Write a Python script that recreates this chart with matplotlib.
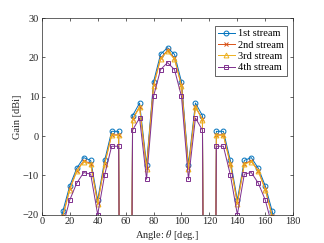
import numpy as np
import matplotlib
matplotlib.use("Agg")
from matplotlib import pyplot as plt

plt.rcParams['font.family'] = ['Liberation Serif', 'DejaVu Serif']
plt.rcParams['mathtext.fontset'] = 'stix'

angles = np.arange(0, 181, 5)

#gain per stream, dBi (60 and 120 deg are deep nulls)
stream1 = [-40, -35, -28, -19.2, -12.7, -8.2, -5.5, -6.2, -16.3, -6.2, 1.2, 1.2, -300,
           5.2, 8.4, -7.3, 13.8, 20.8, 22.5, 20.8, 13.8, -7.3, 8.4, 5.2, -300,
           1.2, 1.2, -6.2, -16.3, -6.2, -5.5, -8.2, -12.7, -19.2, -28, -35, -40]
stream2 = [-40, -35, -29, -20.4, -13.5, -8.8, -6.3, -7.0, -17.0, -7.0, 0.3, 0.3, -300,
           4.3, 7.5, -8.2, 12.9, 19.8, 21.8, 19.8, 12.9, -8.2, 7.5, 4.3, -300,
           0.3, 0.3, -7.0, -17.0, -7.0, -6.3, -8.8, -13.5, -20.4, -29, -35, -40]
stream3 = [-40, -35, -29, -20.6, -13.7, -9.0, -6.5, -7.2, -17.2, -7.2, 0.2, 0.2, -300,
           4.2, 7.3, -8.4, 12.7, 19.6, 21.6, 19.6, 12.7, -8.4, 7.3, 4.2, -300,
           0.2, 0.2, -7.2, -17.2, -7.2, -6.5, -9.0, -13.7, -20.6, -29, -35, -40]
stream4 = [-40, -36, -31, -23.0, -16.3, -12.0, -9.3, -9.7, -20.0, -9.9, -2.6, -2.6, -300,
           1.5, 4.6, -11.0, 10.1, 16.9, 18.7, 16.9, 10.1, -11.0, 4.6, 1.5, -300,
           -2.6, -2.6, -9.9, -20.0, -9.7, -9.3, -12.0, -16.3, -23.0, -31, -36, -40]
labels = ['1st stream', '2nd stream', '3rd stream', '4th stream']

fig = plt.figure(figsize=(3.24, 2.43), dpi=100)
ax = fig.add_axes([0.129, 0.117, 0.776, 0.808])

ax.plot(angles, stream1, '-o', color='#0072BD', lw=0.7, ms=3.5, mfc='none', mew=0.7, label=labels[0])
ax.plot(angles, stream2, '-x', color='#D95319', lw=0.7, ms=3.5, mew=0.7, label=labels[1])
ax.plot(angles, stream3, '-^', color='#EDB120', lw=0.7, ms=3.5, mfc='none', mew=0.7, label=labels[2])
ax.plot(angles, stream4, '-s', color='#7E2F8E', lw=0.7, ms=3.2, mfc='none', mew=0.7, label=labels[3])

ax.set_xlim(0, 180)
ax.set_ylim(-20, 30)
ax.set_xticks(np.arange(0, 181, 20))
ax.set_yticks(np.arange(-20, 31, 10))
ax.tick_params(direction='in', top=True, right=True, length=2.5, width=0.5,
               labelsize=7.5, colors='#262626', pad=2)
for s in ax.spines.values():
    s.set_linewidth(0.5)
    s.set_color('#262626')

ax.set_xlabel(r'Angle: $\theta$ [deg.]', fontsize=7.5, color='#262626', labelpad=1)
ax.set_ylabel('Gain [dBi]', fontsize=7.5, color='#262626', labelpad=1)

leg = ax.legend(loc='upper right', bbox_to_anchor=(0.975, 0.961), fontsize=7.5,
                fancybox=False, framealpha=1, edgecolor='#262626', handlelength=1.6,
                handletextpad=0.3, borderpad=0.3, labelspacing=0.2, borderaxespad=0)
leg.get_frame().set_linewidth(0.5)

fig.savefig('out.png', dpi=100)
